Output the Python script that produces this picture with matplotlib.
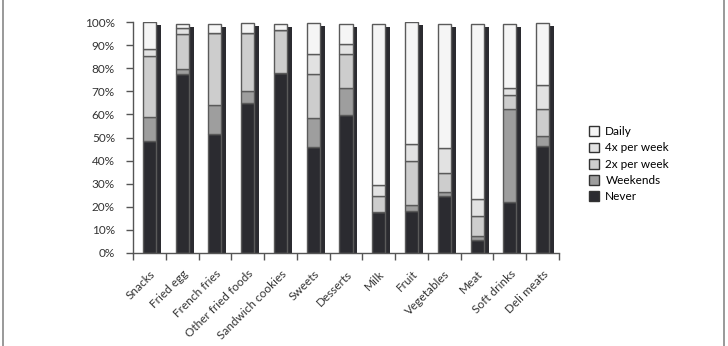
import numpy as np
import matplotlib
matplotlib.use("Agg")
import matplotlib.pyplot as plt
from matplotlib.lines import Line2D

plt.rcParams['font.family'] = ['Lato', 'DejaVu Sans']

foods = ["Snacks", "Fried egg", "French fries", "Other fried foods",
         "Sandwich cookies", "Sweets", "Desserts", "Milk", "Fruit",
         "Vegetables", "Meat", "Soft drinks", "Deli meats"]

# share of respondents (%) per frequency
never = [48.6, 77.5, 51.4, 64.8, 77.8, 46.0, 59.6, 17.6, 18.0, 24.8, 5.6, 22.1, 46.3]
weekends = [10.1, 2.2, 12.7, 5.5, 0.0, 12.3, 12.0, 0.0, 2.6, 1.8, 1.9, 40.2, 4.3]
twice_week = [26.6, 15.1, 31.0, 25.1, 18.7, 19.0, 14.5, 7.2, 19.4, 8.2, 8.4, 6.1, 11.6]
four_week = [3.0, 2.5, 0.0, 0.0, 0.0, 9.0, 4.5, 4.6, 7.0, 10.5, 7.3, 3.2, 10.4]
daily = [11.7, 1.7, 3.9, 4.0, 2.5, 13.1, 8.4, 69.6, 53.0, 53.7, 75.8, 27.4, 26.8]

series = [("Never", never, "#2b2b30"),
          ("Weekends", weekends, "#9e9e9e"),
          ("2x per week", twice_week, "#cdcdcd"),
          ("4x per week", four_week, "#e2e2e2"),
          ("Daily", daily, "#f5f5f5")]

fig = plt.figure(figsize=(7.28, 3.46), dpi=100)
ax = fig.add_axes([0.1827, 0.2688, 0.5852, 0.6676])

x = np.arange(len(foods))
width = 0.4
totals = np.sum([s[1] for s in series], axis=0)

# drop shadow behind each stacked bar
ax.bar(x + 0.15, totals - 1.3, width=width, color="#2b2b30", zorder=1)

bottom = np.zeros(len(foods))
for name, vals, col in series:
    ax.bar(x, vals, width=width, bottom=bottom, color=col,
           edgecolor="#5a5a5a", linewidth=1.0, label=name, zorder=2)
    bottom += np.array(vals)

ax.set_xlim(-0.5, len(foods) - 0.5)
ax.set_ylim(0, 100)
ax.set_yticks(np.arange(0, 101, 10))
ax.set_yticklabels([f"{v}%" for v in range(0, 101, 10)], fontsize=8.5, color="#333333")
ax.set_xticks(np.arange(-0.5, len(foods), 1.0))
ax.set_xticklabels([])
ax.set_xticks(x, minor=True)
ax.set_xticklabels(foods, minor=True, rotation=45, ha="right",
                   rotation_mode="anchor", fontsize=8.5, color="#333333")
ax.tick_params(axis="x", which="minor", length=0, pad=11)
ax.tick_params(axis="x", which="major", length=5, color="#555555", width=1)
ax.tick_params(axis="y", length=5, color="#555555", width=1, pad=8)

for side in ["top", "right"]:
    ax.spines[side].set_visible(False)
for side in ["left", "bottom"]:
    ax.spines[side].set_color("#555555")
    ax.spines[side].set_linewidth(1)

handles, labels = ax.get_legend_handles_labels()
leg = ax.legend(handles[::-1], labels[::-1], loc="upper left",
                bbox_to_anchor=(1.045, 0.595), frameon=False, fontsize=8.5,
                handlelength=0.9, handleheight=0.9, handletextpad=0.5,
                labelspacing=0.45)
for p in leg.get_patches():
    p.set_edgecolor("#333333")

# thin frame lines at left and right edges of the image
fig.add_artist(Line2D([0.004, 0.004], [0, 1], color="#888888", lw=1.2))
fig.add_artist(Line2D([0.9945, 0.9945], [0, 1], color="#888888", lw=1.2))

fig.savefig("out.png", dpi=100)
